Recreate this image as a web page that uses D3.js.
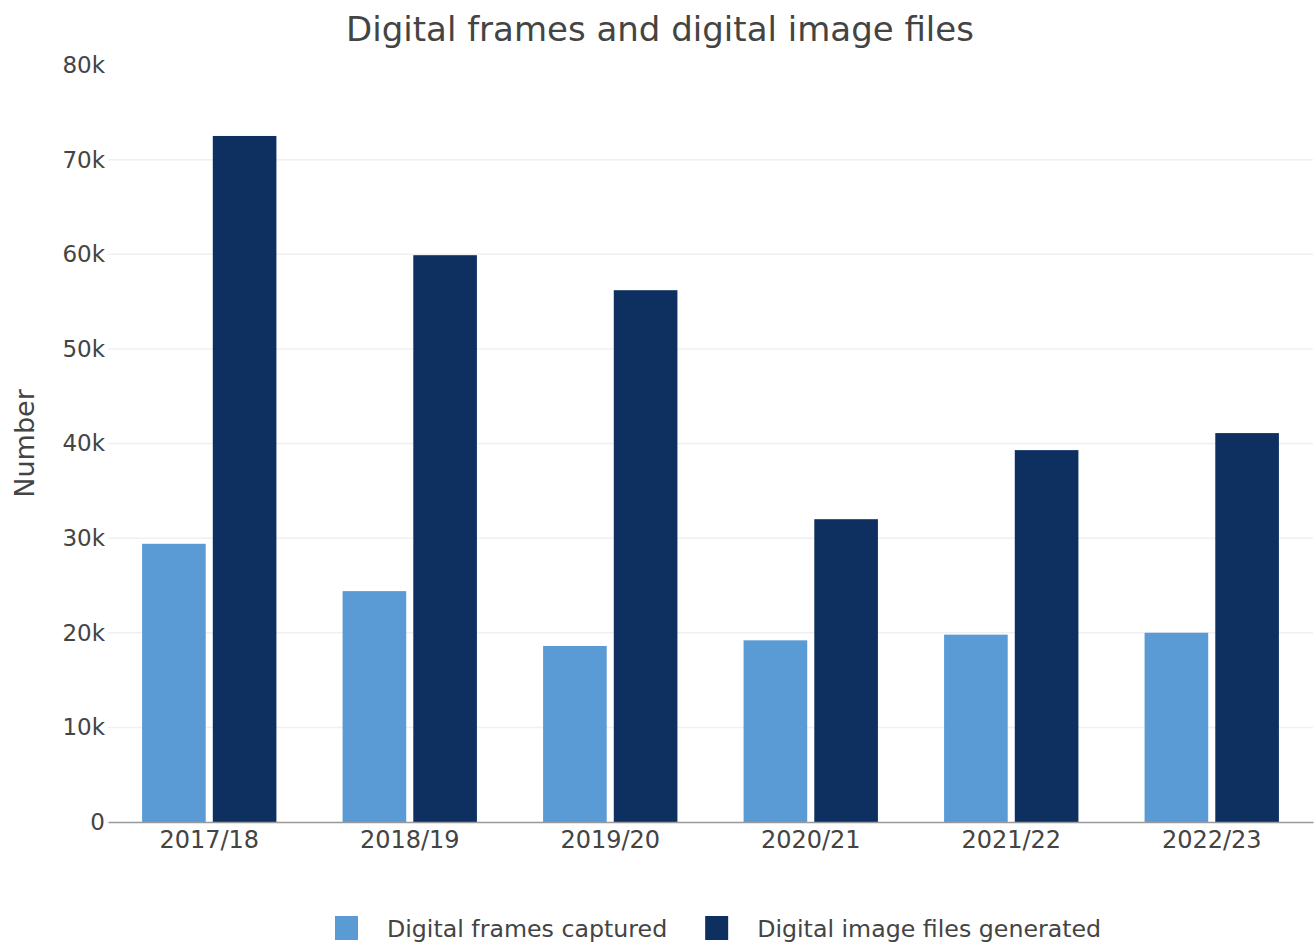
<!DOCTYPE html>
<html>
<head>
<meta charset="utf-8">
<script src="https://cdn.jsdelivr.net/npm/d3@7"></script>
<style>
  body { margin: 0; background: #fff; }
  text { font-family: "DejaVu Sans", Verdana, sans-serif; fill: #444; }
</style>
</head>
<body>
<div id="chart"></div>
<script>
// Financial years and the two series (counts)
const years = ['2017/18', '2018/19', '2019/20', '2020/21', '2021/22', '2022/23'];
const framesCaptured = [29400, 24400, 18600, 19200, 19800, 20000];
const filesGenerated = [72500, 59900, 56200, 32000, 39300, 41100];
const seriesNames = ['Digital frames captured', 'Digital image files generated'];
const seriesColors = ['#5b9bd5', '#0d3061'];
const yTicks = [0, 10000, 20000, 30000, 40000, 50000, 60000, 70000, 80000];

/* Dimensions */
let width = 1316, height = 942;
let margin = { left: 108, right: 3, top: 65, bottom: 120 };

let svg = d3.select('#chart')
  .append('svg')
  .attr('width', width)
  .attr('height', height);

let x = d3.scaleBand()
  .domain(years)
  .range([margin.left, width - margin.right])
  .paddingInner(0.33)
  .paddingOuter(0.17);

let xSeries = d3.scaleBand()
  .domain(seriesNames)
  .range([0, x.bandwidth()])
  .paddingInner(0.1);

let y = d3.scaleLinear()
  .domain([0, 80000])
  .range([height - margin.bottom, margin.top]);

// Gridlines (none on the top tick)
svg.append('g')
  .selectAll('line')
  .data(yTicks.filter(d => d > 0 && d < 80000))
  .enter().append('line')
  .attr('x1', margin.left)
  .attr('x2', width - margin.right)
  .attr('y1', d => y(d))
  .attr('y2', d => y(d))
  .style('stroke', '#f0f0f0')
  .style('stroke-width', 1.5);

// Y axis labels
let yAxis = d3.axisLeft(y)
  .tickValues(yTicks)
  .tickSize(0)
  .tickPadding(3)
  .tickFormat(d => d === 0 ? '0' : (d / 1000) + 'k');

svg.append('g')
  .attr('transform', 'translate(' + margin.left + ',0)')
  .call(yAxis)
  .call(g => g.select('.domain').remove())
  .selectAll('text')
  .style('font-size', '23px')
  .style('fill', '#444');

// Bars
let rows = years.map((yr, i) => ({ year: yr, values: [framesCaptured[i], filesGenerated[i]] }));

let groups = svg.append('g')
  .selectAll('g')
  .data(rows)
  .enter().append('g')
  .attr('transform', d => 'translate(' + x(d.year) + ',0)');

groups.selectAll('rect')
  .data(d => d.values.map((v, i) => ({ name: seriesNames[i], value: v, i: i })))
  .enter().append('rect')
  .attr('x', d => xSeries(d.name))
  .attr('width', xSeries.bandwidth())
  .attr('y', d => y(d.value))
  .attr('height', d => y(0) - y(d.value))
  .style('fill', d => seriesColors[d.i]);

// X axis
let xAxis = d3.axisBottom(x)
  .tickSize(0)
  .tickPadding(9);

svg.append('g')
  .attr('transform', 'translate(0,' + y(0) + ')')
  .call(xAxis)
  .call(g => g.select('.domain').style('stroke', '#999').style('stroke-width', 1.3))
  .selectAll('text')
  .style('font-size', '24px')
  .style('fill', '#444');

// Title
svg.append('text')
  .attr('x', width / 2 + 2)
  .attr('y', 41)
  .attr('text-anchor', 'middle')
  .style('font-size', '34px')
  .text('Digital frames and digital image files');

// Y axis title
svg.append('text')
  .attr('transform', 'translate(34,' + (y(0) + y(80000)) / 2 + ') rotate(-90)')
  .attr('text-anchor', 'middle')
  .style('font-size', '27px')
  .text('Number');

// Legend
let legend = svg.append('g');
let lx = 335;
seriesNames.forEach((name, i) => {
  legend.append('rect')
    .attr('x', lx)
    .attr('y', 916)
    .attr('width', 23)
    .attr('height', 24)
    .style('fill', seriesColors[i]);
  let t = legend.append('text')
    .attr('x', lx + 52)
    .attr('y', 937)
    .style('font-size', '23.7px')
    .text(name);
  lx += 52 + t.node().getComputedTextLength() + 38;
});
</script>
</body>
</html>
